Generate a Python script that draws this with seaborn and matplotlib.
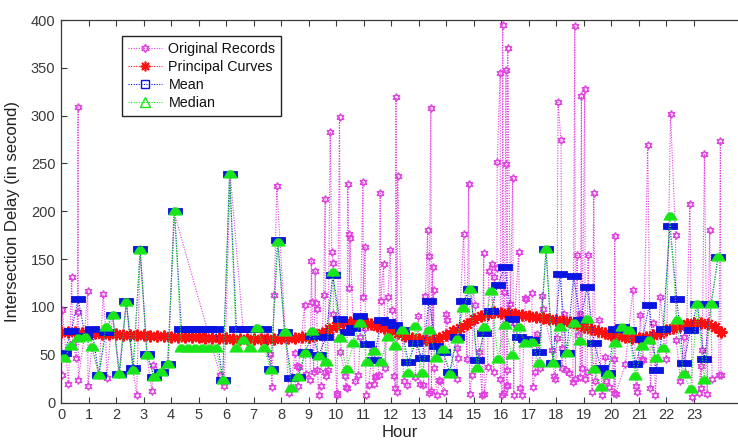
import numpy as np
import pandas as pd
import matplotlib
matplotlib.use("Agg")
import matplotlib.pyplot as plt
from matplotlib.path import Path
from matplotlib.lines import Line2D
import seaborn as sns

# ---------------- data ----------------
rec_hour = [0.02, 0.05, 0.27, 0.39, 0.42, 0.55, 0.60, 0.62, 0.63, 0.85, 0.97, 0.98,
            1.12, 1.38, 1.53, 1.62, 1.66, 1.88, 2.10, 2.37, 2.60, 2.75, 2.88, 3.12,
            3.30, 3.36, 3.62, 3.90, 4.10, 5.78, 5.93, 6.15, 6.65, 7.10, 7.60, 7.67,
            7.75, 7.84, 8.15, 8.28, 8.35, 8.50, 8.57, 8.60, 8.63, 8.85, 8.90, 9.05,
            9.10, 9.12, 9.18, 9.24, 9.25, 9.30, 9.32, 9.36, 9.45, 9.54, 9.60, 9.61,
            9.62, 9.70, 9.78, 9.84, 9.88, 9.90, 10.02, 10.03, 10.12, 10.15, 10.33, 10.35,
            10.39, 10.42, 10.45, 10.48, 10.50, 10.69, 10.81, 10.87, 10.97, 10.99, 11.05, 11.06,
            11.08, 11.18, 11.32, 11.36, 11.42, 11.45, 11.54, 11.60, 11.62, 11.72, 11.78, 11.88,
            11.96, 12.02, 12.08, 12.10, 12.15, 12.17, 12.21, 12.23, 12.45, 12.57, 12.87, 12.99,
            13.05, 13.17, 13.24, 13.32, 13.36, 13.39, 13.44, 13.46, 13.50, 13.52, 13.54, 13.56,
            13.66, 13.75, 13.78, 13.90, 14.00, 14.02, 14.04, 14.38, 14.39, 14.42, 14.63, 14.75,
            14.81, 14.85, 14.93, 14.97, 15.05, 15.18, 15.30, 15.36, 15.38, 15.50, 15.54, 15.66,
            15.72, 15.75, 15.84, 15.85, 15.96, 15.97, 16.03, 16.05, 16.08, 16.10, 16.17, 16.18,
            16.20, 16.21, 16.22, 16.23, 16.33, 16.41, 16.45, 16.47, 16.63, 16.69, 16.75, 16.87,
            16.90, 17.11, 17.14, 17.24, 17.30, 17.42, 17.48, 17.50, 17.85, 17.93, 17.96, 18.02,
            18.06, 18.17, 18.20, 18.22, 18.27, 18.35, 18.45, 18.60, 18.67, 18.69, 18.75, 18.80,
            18.85, 18.87, 18.91, 18.93, 19.03, 19.05, 19.12, 19.15, 19.30, 19.36, 19.42, 19.54,
            19.66, 19.78, 19.80, 19.90, 20.08, 20.10, 20.12, 20.15, 20.51, 20.78, 20.90, 20.93,
            21.05, 21.12, 21.15, 21.32, 21.42, 21.52, 21.60, 21.78, 22.00, 22.15, 22.33, 22.36,
            22.51, 22.63, 22.69, 22.85, 22.94, 23.18, 23.24, 23.26, 23.30, 23.38, 23.48, 23.57,
            23.66, 23.90, 23.96, 23.98]
rec_delay = [29, 97, 19, 131, 62, 47, 95, 309, 24, 70, 117, 17,
             58, 29, 113, 79, 26, 92, 30, 105, 36, 8, 160, 50,
             12, 39, 32, 40, 200, 29, 17, 239, 65, 78, 51, 16,
             112, 226, 74, 10, 15, 52, 38, 17, 37, 102, 30, 24,
             148, 105, 32, 138, 104, 98, 34, 8, 17, 112, 213, 32,
             28, 34, 283, 157, 146, 93, 10, 8, 299, 53, 28, 16,
             15, 228, 176, 120, 172, 22, 29, 69, 231, 110, 163, 78,
             8, 18, 57, 19, 27, 28, 29, 219, 106, 145, 36, 110,
             159, 97, 84, 28, 15, 319, 11, 237, 22, 18, 27, 90,
             19, 18, 111, 180, 10, 153, 308, 12, 142, 65, 118, 36,
             8, 24, 22, 11, 93, 86, 69, 25, 57, 47, 176, 45,
             229, 9, 29, 119, 102, 53, 8, 156, 9, 37, 138, 145,
             32, 131, 141, 252, 345, 25, 8, 395, 116, 10, 348, 249,
             17, 18, 34, 371, 103, 235, 8, 83, 157, 15, 8, 109,
             108, 114, 16, 32, 72, 36, 111, 98, 55, 28, 25, 67,
             314, 274, 36, 57, 93, 34, 31, 21, 394, 25, 154, 71,
             93, 27, 320, 36, 328, 25, 32, 154, 11, 219, 22, 86,
             8, 48, 22, 16, 45, 10, 174, 9, 40, 118, 17, 11,
             92, 45, 44, 269, 15, 83, 8, 110, 46, 302, 175, 65,
             22, 68, 31, 208, 6, 10, 38, 15, 55, 260, 9, 180,
             25, 29, 273, 29]

# 15-minute interval centres (hours) and their statistics
interval_hour = np.arange(0.125, 24.0, 0.25)
mean_delay = [52, 75, 108, 70, 77, 29, 74, 92, 30, 106, 36, 160,
              51, 27, 32, 40, 200, 77, 77, 77, 77, 77, 77, 24,
              239, 77, 77, 77, 77, 77, 35, 170, 74, 26, 27, 53,
              70, 50, 68, 133, 87, 74, 78, 90, 61, 44, 86, 84,
              81, 76, 42, 62, 47, 106, 59, 53, 32, 68, 106, 119,
              44, 73, 96, 123, 142, 87, 68, 66, 65, 53, 160, 41,
              134, 52, 132, 86, 121, 62, 36, 31, 77, 79, 76, 40,
              66, 102, 34, 77, 185, 108, 41, 76, 103, 45, 103, 152]
median_delay = [47, 59, 67, 68, 58, 29, 79, 91, 30, 105, 34, 159,
                50, 27, 32, 40, 200, 57, 57, 57, 57, 57, 57, 24,
                239, 57, 65, 57, 78, 57, 34, 168, 74, 15, 27, 52,
                75, 49, 42, 136, 67, 35, 62, 83, 42, 54, 42, 69,
                59, 76, 31, 80, 31, 76, 47, 56, 30, 66, 99, 119,
                36, 79, 117, 46, 81, 50, 79, 62, 63, 41, 160, 41,
                79, 52, 83, 64, 87, 35, 16, 30, 62, 79, 76, 28,
                59, 65, 47, 57, 195, 86, 30, 14, 103, 24, 103, 152]

# principal curve sampled every quarter hour (0 .. 24 h)
curve_hour = np.arange(0.0, 24.01, 0.25)
curve_delay = [74.0, 73.8, 73.4, 73.0, 72.6, 72.3, 72.0, 71.6,
               71.3, 71.0, 70.7, 70.4, 70.1, 69.8, 69.5, 69.2,
               69.0, 68.7, 68.4, 68.2, 68.0, 67.7, 67.5, 67.3,
               67.0, 66.8, 66.7, 66.6, 66.5, 66.5, 66.6, 66.8,
               67.0, 67.3, 67.7, 68.3, 69.0, 70.5, 73.0, 76.5,
               80.0, 83.0, 84.5, 84.8, 84.0, 82.3, 80.0, 78.0,
               76.0, 73.0, 70.0, 67.5, 66.0, 65.0, 65.0, 67.5,
               71.0, 74.5, 78.0, 82.5, 87.0, 90.5, 93.0, 94.2,
               94.0, 93.2, 92.3, 91.2, 90.2, 89.2, 88.2, 87.2,
               86.2, 85.2, 84.0, 81.8, 79.0, 76.5, 74.5, 72.5,
               71.0, 69.5, 68.3, 67.5, 67.2, 68.3, 70.2, 72.5,
               75.3, 78.0, 80.3, 82.0, 83.0, 83.2, 82.2, 79.0,
               74.0]

hour_ticks = list(range(0, 24))
delay_ticks = list(range(0, 401, 50))
labels = ["Original Records", "Principal Curves", "Mean", "Median"]

# ---------------- style ----------------
sns.set_theme(style="white")
plt.rcParams["font.family"] = ["Liberation Sans", "DejaVu Sans"]
plt.rcParams["axes.edgecolor"] = "#3a3a3a"

c_rec = "#e040e0"
c_pc = "#ff1010"
c_mean = "#0a14e0"
c_med = "#19e619"
dotted = (0, (1.0, 1.3))

fig = plt.figure(figsize=(7.38, 4.48), dpi=100)
ax = fig.add_axes([61 / 738, 45.5 / 448, 677 / 738, 382.5 / 448])

rect = Path([(-1, -0.42), (1, -0.42), (1, 0.42), (-1, 0.42), (-1, -0.42)],
            [Path.MOVETO, Path.LINETO, Path.LINETO, Path.LINETO, Path.CLOSEPOLY])
dome = Path([(-1, -0.55), (1, -0.55), (0.6, 0.2), (0.3, 0.55), (-0.3, 0.55),
             (-0.6, 0.2), (-1, -0.55)],
            [Path.MOVETO] + [Path.LINETO] * 5 + [Path.CLOSEPOLY])

recs = pd.DataFrame({"hour": rec_hour, "delay": rec_delay}).sort_values("hour")
sns.lineplot(data=recs, x="hour", y="delay", estimator=None, sort=False, ax=ax,
             color=c_rec, linestyle=dotted, linewidth=0.8, marker=(6, 1, 0),
             markersize=5.6, markerfacecolor="none", markeredgecolor=c_rec,
             markeredgewidth=1.0, legend=False, zorder=2)

pc = pd.DataFrame({"hour": curve_hour, "delay": curve_delay})
sns.lineplot(data=pc, x="hour", y="delay", estimator=None, sort=False, ax=ax,
             color=c_pc, linestyle=dotted, linewidth=0.8, marker=(8, 2, 0),
             markersize=8.5, markeredgecolor=c_pc, markeredgewidth=1.5,
             legend=False, zorder=3)

stats = pd.DataFrame({"hour": interval_hour, "mean": mean_delay, "median": median_delay})
sns.lineplot(data=stats, x="hour", y="mean", estimator=None, sort=False, ax=ax,
             color=c_mean, linestyle=dotted, linewidth=0.8, marker=rect,
             markersize=9.5, markerfacecolor=c_mean, markeredgecolor=c_mean,
             markeredgewidth=0.6, legend=False, zorder=4)
sns.lineplot(data=stats, x="hour", y="median", estimator=None, sort=False, ax=ax,
             color=c_med, linestyle=dotted, linewidth=0.8, marker=dome,
             markersize=9.5, markerfacecolor=c_med, markeredgecolor=c_med,
             markeredgewidth=0.6, legend=False, zorder=5)

ax.set_xlim(0, 24.6)
ax.set_ylim(0, 400)
ax.set_xticks(hour_ticks)
ax.set_xticklabels([str(h) for h in hour_ticks])
ax.set_yticks(delay_ticks)
ax.tick_params(axis="both", direction="in", length=4, width=0.8,
               colors="#3a3a3a", labelsize=10.5, pad=4)
ax.tick_params(axis="x", top=True, bottom=True)
ax.tick_params(axis="y", left=True, right=False)
for s in ["left", "bottom", "top"]:
    ax.spines[s].set_linewidth(0.9)
ax.spines["right"].set_visible(False)

ax.set_xlabel("Hour", fontsize=12, color="#222222", labelpad=2)
ax.set_ylabel("Intersection Delay (in second)", fontsize=12, color="#222222", labelpad=8)

handles = [
    Line2D([], [], color=c_rec, linestyle=dotted, linewidth=0.8, marker=(6, 1, 0),
           markersize=6, markerfacecolor="none", markeredgecolor=c_rec),
    Line2D([], [], color=c_pc, linestyle=dotted, linewidth=0.8, marker=(8, 2, 0),
           markersize=7, markeredgecolor=c_pc, markeredgewidth=1.2),
    Line2D([], [], color=c_mean, linestyle=dotted, linewidth=0.8, marker="s",
           markersize=6, markerfacecolor="none", markeredgecolor=c_mean),
    Line2D([], [], color=c_med, linestyle=dotted, linewidth=0.8, marker="^",
           markersize=7, markerfacecolor="none", markeredgecolor=c_med),
]
leg = ax.legend(handles, labels, loc="upper left", bbox_to_anchor=(0.090, 0.958),
                borderaxespad=0, fontsize=10.3, frameon=True, fancybox=False,
                framealpha=1, edgecolor="#222222", handlelength=2.4,
                handletextpad=0.45, labelspacing=0.28, borderpad=0.4)
leg.get_frame().set_linewidth(1.0)
for t in leg.get_texts():
    t.set_color("#111111")

fig.savefig("out.png", dpi=100)
